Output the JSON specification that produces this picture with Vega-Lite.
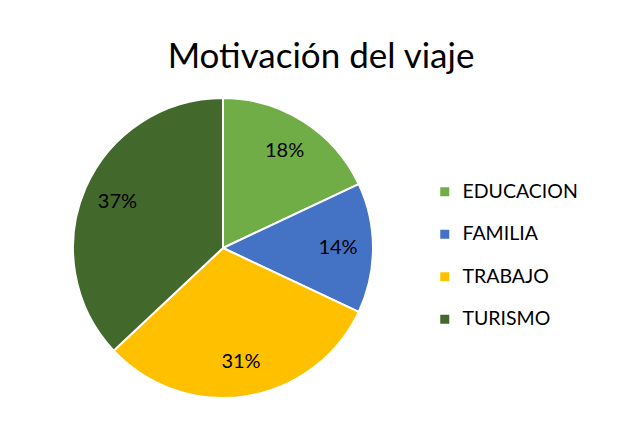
{
  "$schema": "https://vega.github.io/schema/vega-lite/v6.json",
  "width": 432,
  "height": 472,
  "autosize": {"type": "none"},
  "padding": {"left": 7, "top": 12, "right": 185, "bottom": 0},
  "background": "white",
  "title": {
    "text": "Motivación del viaje",
    "font": "Lato",
    "fontSize": 35,
    "fontWeight": "normal",
    "color": "#000000",
    "anchor": "middle",
    "frame": "group",
    "dx": 98,
    "offset": -63
  },
  "data": {
    "values": [
      {"motivo": "EDUCACION", "share": 0.18},
      {"motivo": "FAMILIA", "share": 0.14},
      {"motivo": "TRABAJO", "share": 0.31},
      {"motivo": "TURISMO", "share": 0.37}
    ]
  },
  "encoding": {
    "theta": {"field": "share", "type": "quantitative", "stack": true},
    "order": {"field": "motivo", "sort": "ascending"},
    "color": {
      "field": "motivo",
      "type": "nominal",
      "sort": ["EDUCACION", "FAMILIA", "TRABAJO", "TURISMO"],
      "scale": {
        "domain": ["EDUCACION", "FAMILIA", "TRABAJO", "TURISMO"],
        "range": ["#70AD47", "#4472C4", "#FFC000", "#43682B"]
      },
      "legend": {
        "title": null,
        "orient": "none",
        "legendX": 428,
        "legendY": 170,
        "symbolType": "square",
        "symbolSize": 81,
        "symbolStrokeWidth": 0,
        "labelFont": "Lato",
        "labelFontSize": 19.5,
        "labelColor": "#000000",
        "labelOffset": 8,
        "rowPadding": 21.5
      }
    }
  },
  "layer": [
    {
      "mark": {"type": "arc", "outerRadius": 150, "stroke": "white", "strokeWidth": 2}
    },
    {
      "mark": {"type": "text", "radius": 115, "font": "Lato", "fontSize": 20, "color": "#000000"},
      "encoding": {
        "text": {"field": "share", "type": "quantitative", "format": ".0%"},
        "color": {"value": "#000000"}
      }
    }
  ],
  "config": {"view": {"stroke": null}}
}
